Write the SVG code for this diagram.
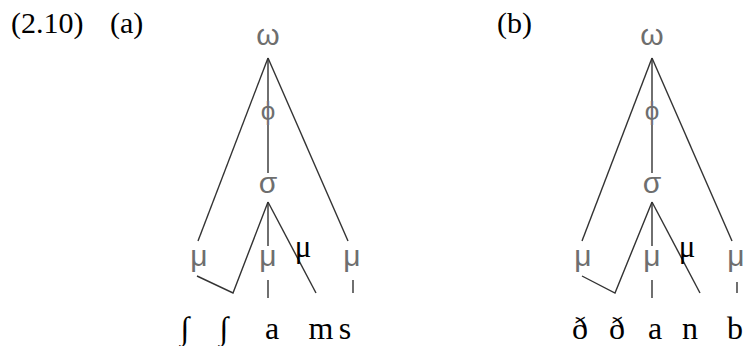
<svg xmlns="http://www.w3.org/2000/svg" width="754" height="346" viewBox="0 0 754 346">
<style>
.lbl{font-family:"Liberation Serif",serif;font-size:30px;fill:#000}
.seg{font-family:"Liberation Serif",serif;font-size:32px;fill:#000;text-anchor:middle}
.g{font-family:"Liberation Sans",sans-serif;font-size:30px;fill:#6e6e6e;text-anchor:middle}
.ph{font-size:26px}
.bm{font-family:"Liberation Serif",serif;font-size:31px;fill:#000;text-anchor:middle}
.ln line,.ln polyline{stroke:#333;stroke-width:1.4;fill:none}
</style>
<rect width="754" height="346" fill="#fff"/>
<text class="lbl" x="11" y="33">(2.10)</text>
<text class="lbl" x="110" y="33">(a)</text>
<text class="lbl" x="497" y="33">(b)</text>

<g id="connectors-a" class="ln">
<line x1="268" y1="58" x2="268" y2="101"/>
<line x1="268" y1="125" x2="268" y2="173"/>
<line x1="268" y1="58" x2="198" y2="241"/>
<line x1="268" y1="58" x2="348" y2="241"/>
<line x1="268" y1="202" x2="268" y2="246"/>
<line x1="268" y1="280" x2="268" y2="298"/>
<polyline points="268,202 233,293 197,276"/>
<line x1="268" y1="202" x2="316" y2="293"/>
<line x1="353" y1="280" x2="353" y2="293"/>
</g>
<g id="tree-a">
<g id="a-omega"><text class="g" x="268" y="45">ω</text></g>
<g id="a-phi"><text class="g ph" x="268" y="120">ϕ</text></g>
<g id="a-sigma"><text class="g" x="268" y="193">σ</text></g>
<g id="a-mu1"><text class="g" x="199" y="266">μ</text></g>
<g id="a-mu2"><text class="g" x="268" y="266">μ</text></g>
<g id="a-mu3"><text class="bm" x="303" y="257">μ</text></g>
<g id="a-mu4"><text class="g" x="352" y="266">μ</text></g>
<g id="a-segs">
<text class="seg" x="185" y="339">∫</text>
<text class="seg" x="224" y="339">∫</text>
<text class="seg" x="272" y="339">a</text>
<text class="seg" x="321" y="339">m</text>
<text class="seg" x="345" y="339">s</text>
</g>
</g>

<g id="connectors-b" class="ln">
<line x1="652" y1="58" x2="652" y2="101"/>
<line x1="652" y1="125" x2="652" y2="173"/>
<line x1="652" y1="58" x2="582" y2="241"/>
<line x1="652" y1="58" x2="732" y2="241"/>
<line x1="652" y1="202" x2="652" y2="246"/>
<line x1="652" y1="280" x2="652" y2="298"/>
<polyline points="652,202 615,293 582,276"/>
<line x1="652" y1="202" x2="700" y2="293"/>
<line x1="737" y1="282" x2="737" y2="293"/>
</g>
<g id="tree-b">
<g id="b-omega"><text class="g" x="652" y="45">ω</text></g>
<g id="b-phi"><text class="g ph" x="652" y="120">ϕ</text></g>
<g id="b-sigma"><text class="g" x="652" y="193">σ</text></g>
<g id="b-mu1"><text class="g" x="583" y="266">μ</text></g>
<g id="b-mu2"><text class="g" x="652" y="266">μ</text></g>
<g id="b-mu3"><text class="bm" x="687" y="257">μ</text></g>
<g id="b-mu4"><text class="g" x="736" y="266">μ</text></g>
<g id="b-segs">
<text class="seg" x="580" y="339">ð</text>
<text class="seg" x="617" y="339">ð</text>
<text class="seg" x="655" y="339">a</text>
<text class="seg" x="690" y="339">n</text>
<text class="seg" x="735" y="339">b</text>
</g>
</g>
</svg>
